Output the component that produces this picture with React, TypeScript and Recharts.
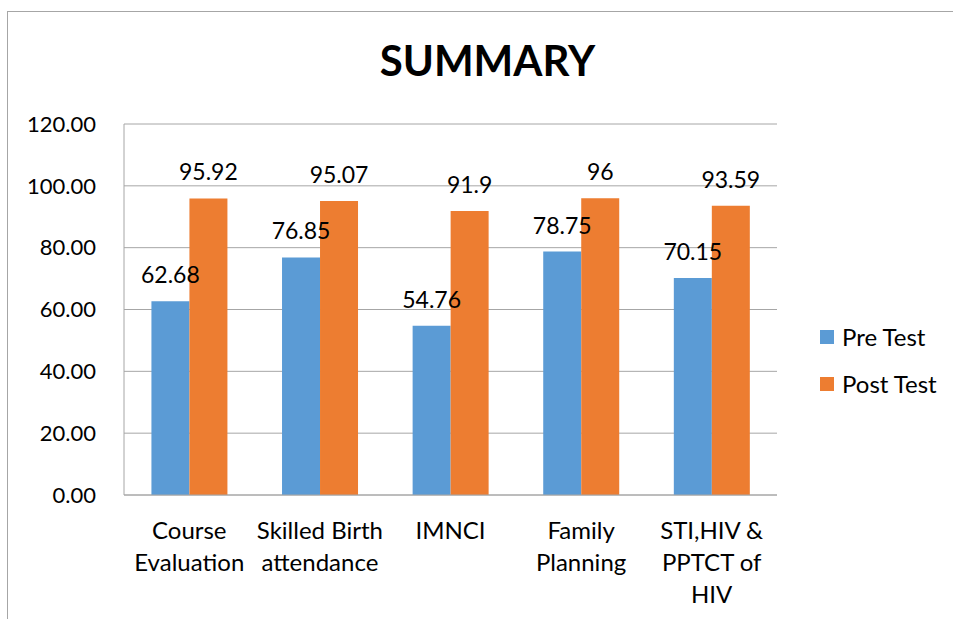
import { BarChart, Bar, XAxis, YAxis, CartesianGrid, LabelList } from 'recharts';

const categories = [
  'Course\nEvaluation',
  'Skilled Birth\nattendance',
  'IMNCI',
  'Family\nPlanning',
  'STI,HIV &\nPPTCT of\nHIV',
];
const preTest = [62.68, 76.85, 54.76, 78.75, 70.15];
const postTest = [95.92, 95.07, 91.9, 96, 93.59];
const preLabels = ['62.68', '76.85', '54.76', '78.75', '70.15'];
const postLabels = ['95.92', '95.07', '91.9', '96', '93.59'];
const yTicks = [0, 20, 40, 60, 80, 100, 120];
const seriesNames = ['Pre Test', 'Post Test'];

const data = categories.map((name, i) => ({
  name,
  pre: preTest[i],
  post: postTest[i],
  preLabel: preLabels[i],
  postLabel: postLabels[i],
}));

const FONT = 'Lato, "Open Sans", sans-serif';
const BLUE = '#5b9bd5';
const ORANGE = '#ed7d31';
const GRID = '#a6a6a6';

function CategoryTick({ x, y, payload }: any) {
  const lines = String(payload.value).split('\n');
  return (
    <text x={x} y={y + 36} textAnchor="middle" fontFamily={FONT} fontSize={24} fill="#000">
      {lines.map((l, i) => (
        <tspan key={i} x={x} dy={i === 0 ? 0 : 32}>
          {l}
        </tspan>
      ))}
    </text>
  );
}

function LegendBox() {
  const colors = [BLUE, ORANGE];
  return (
    <div style={{ position: 'absolute', left: 820, top: 313, fontFamily: FONT, fontSize: 24, color: '#000' }}>
      {seriesNames.map((label, i) => (
        <div key={label} style={{ display: 'flex', alignItems: 'center', height: 47 }}>
          <span style={{ width: 14, height: 14, background: colors[i], marginRight: 8 }} />
          <span>{label}</span>
        </div>
      ))}
    </div>
  );
}

export default function App() {
  return (
    <div style={{ position: 'absolute', left: 0, top: 0, width: 953, height: 619, overflow: 'hidden', background: '#fff' }}>
      <div style={{ position: 'absolute', left: 7, top: 11, width: 1, height: 608, background: GRID }} />
      <div style={{ position: 'absolute', left: 7, top: 11, width: 946, height: 1, background: GRID }} />
      <div
        style={{
          position: 'absolute',
          left: 0,
          width: 975,
          top: 35,
          textAlign: 'center',
          fontFamily: FONT,
          fontWeight: 700,
          fontSize: 42,
          color: '#000',
        }}
      >
        SUMMARY
      </div>
      <BarChart
        width={953}
        height={619}
        data={data}
        margin={{ top: 124, right: 176, bottom: 0, left: 0 }}
        barCategoryGap="21%"
        barGap={0}
        style={{ position: 'absolute', left: 0, top: 0 }}
      >
        <CartesianGrid vertical={false} stroke={GRID} />
        <XAxis
          dataKey="name"
          tick={<CategoryTick />}
          tickLine={false}
          axisLine={{ stroke: GRID }}
          interval={0}
          height={124}
        />
        <YAxis
          domain={[0, 120]}
          ticks={yTicks}
          tickFormatter={(v: number) => v.toFixed(2)}
          tick={{ fontFamily: FONT, fontSize: 22, fill: '#000' }}
          tickLine={false}
          tickSize={0}
          tickMargin={28}
          axisLine={{ stroke: GRID }}
          width={124}
        />
        <Bar dataKey="pre" name={seriesNames[0]} fill={BLUE} isAnimationActive={false}>
          <LabelList dataKey="preLabel" position="top" offset={18} fontFamily={FONT} fontSize={23} fill="#000" />
        </Bar>
        <Bar dataKey="post" name={seriesNames[1]} fill={ORANGE} isAnimationActive={false}>
          <LabelList dataKey="postLabel" position="top" offset={18} fontFamily={FONT} fontSize={23} fill="#000" />
        </Bar>
      </BarChart>
      <LegendBox />
    </div>
  );
}
